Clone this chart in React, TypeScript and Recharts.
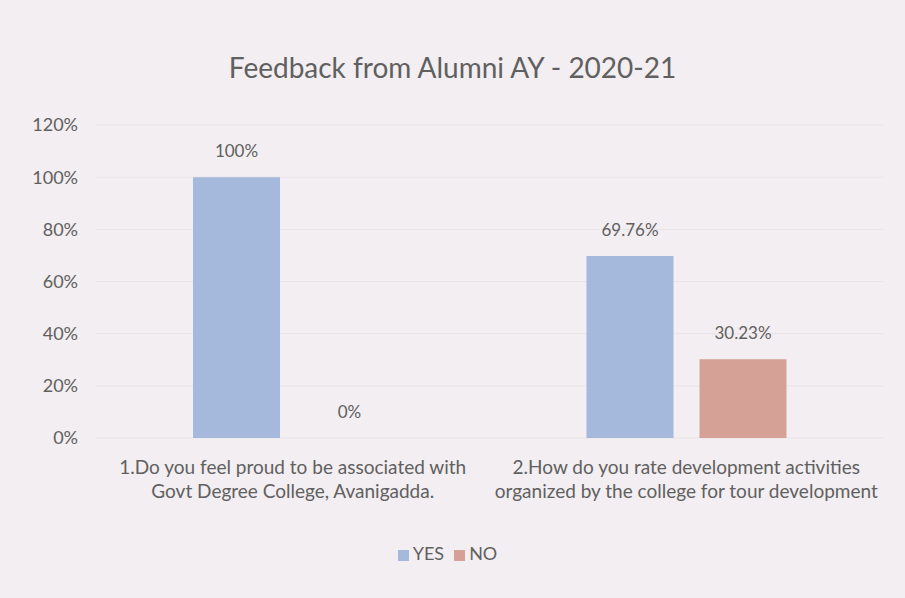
import React from 'react';
import {
  BarChart,
  Bar,
  XAxis,
  YAxis,
  CartesianGrid,
  Legend,
  LabelList,
} from 'recharts';

const questions = [
  ['1.Do you feel proud to be associated with', 'Govt Degree College, Avanigadda.'],
  ['2.How do you rate development activities', 'organized by the college for tour development'],
];
const yesValues = [100, 69.76];
const noValues = [0, 30.23];
const yesLabels = ['100%', '69.76%'];
const noLabels = ['0%', '30.23%'];
const yTicks = [0, 20, 40, 60, 80, 100, 120];

const BLUE = '#a4b9dc';
const SALMON = '#d5a196';
const TEXT = '#606060';
const FONT = 'Lato, "Open Sans", sans-serif';

const data = questions.map((q, i) => ({
  name: i,
  YES: yesValues[i],
  NO: noValues[i],
  yesLabel: yesLabels[i],
  noLabel: noLabels[i],
}));

// two-line category label under each group
const QuestionTick = (props: any) => {
  const { x, y, payload } = props;
  const lines = questions[payload.value] || [];
  return (
    <g transform={`translate(${x},${y})`}>
      {lines.map((line, i) => (
        <text
          key={i}
          x={0}
          y={i * 24}
          dy={28}
          textAnchor="middle"
          fill={TEXT}
          fontSize={19}
          fontFamily={FONT}
        >
          {line}
        </text>
      ))}
    </g>
  );
};

export default function App() {
  return (
    <div
      style={{
        position: 'absolute',
        left: 0,
        top: 0,
        width: 905,
        height: 598,
        background: '#f3eef1',
        fontFamily: FONT,
      }}
    >
      <div
        style={{
          position: 'absolute',
          top: 50,
          width: 905,
          textAlign: 'center',
          fontSize: 28,
          color: TEXT,
        }}
      >
        Feedback from Alumni AY - 2020-21
      </div>
      <BarChart
        width={905}
        height={598}
        data={data}
        margin={{ top: 125, right: 22, left: 36, bottom: 80 }}
        barSize={87}
        barGap={26}
      >
        <CartesianGrid vertical={false} stroke="#e9e3e7" />
        <XAxis
          dataKey="name"
          axisLine={false}
          tickLine={false}
          height={80}
          interval={0}
          tick={<QuestionTick />}
        />
        <YAxis
          domain={[0, 120]}
          ticks={yTicks}
          width={60}
          axisLine={false}
          tickLine={false}
          tickMargin={12}
          tickFormatter={(v: number) => `${v}%`}
          tick={{ fill: TEXT, fontSize: 18, fontFamily: FONT }}
        />
        <Legend
          verticalAlign="middle"
          align="center"
          iconType="square"
          iconSize={11}
          itemSorter={null}
          wrapperStyle={{ top: 542, left: 0, width: 905, fontSize: 18, fontFamily: FONT }}
          formatter={(value: string) => <span style={{ color: TEXT }}>{value}</span>}
        />
        <Bar dataKey="YES" fill={BLUE} isAnimationActive={false}>
          <LabelList dataKey="yesLabel" position="top" offset={20} fill={TEXT} fontSize={17} fontFamily={FONT} />
        </Bar>
        <Bar dataKey="NO" fill={SALMON} minPointSize={0.01} isAnimationActive={false}>
          <LabelList dataKey="noLabel" position="top" offset={20} fill={TEXT} fontSize={17} fontFamily={FONT} />
        </Bar>
      </BarChart>
    </div>
  );
}
